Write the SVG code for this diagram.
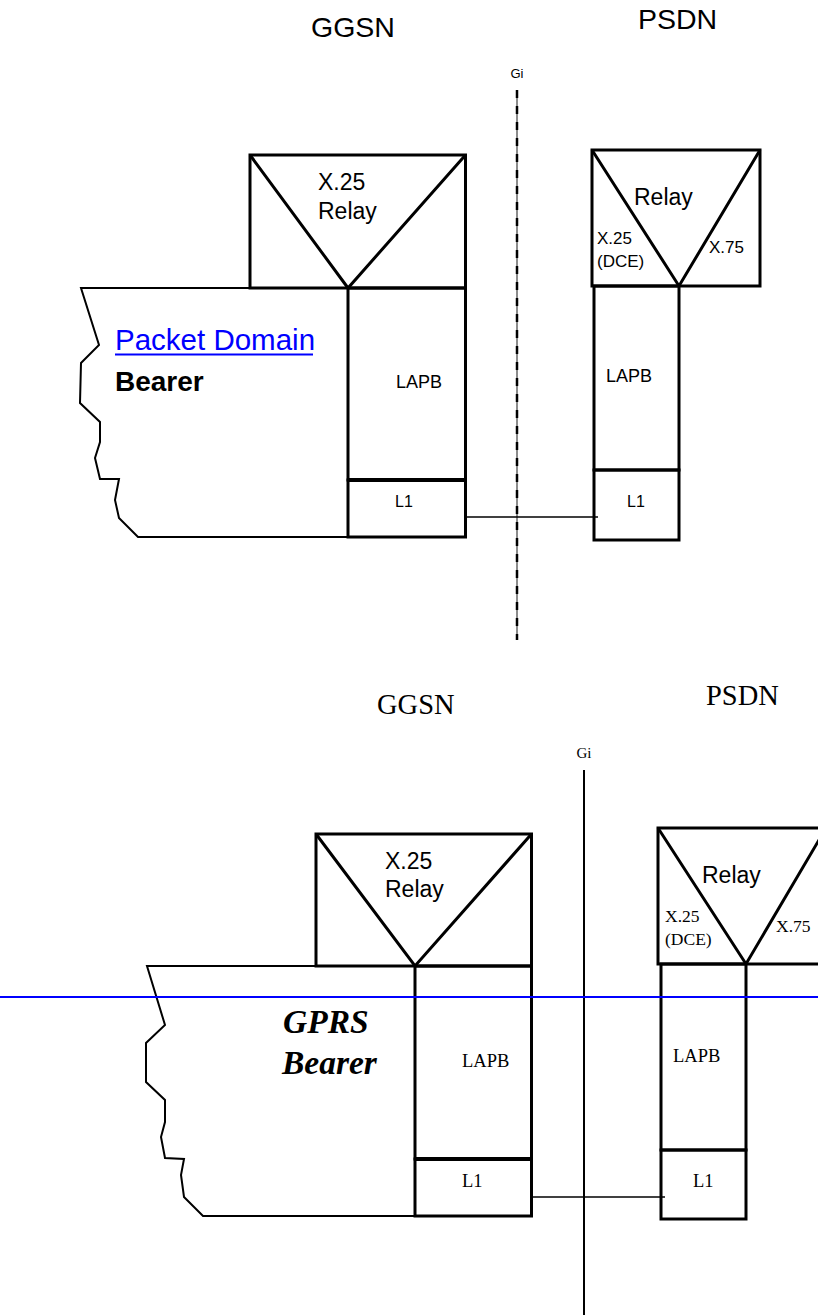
<svg xmlns="http://www.w3.org/2000/svg" width="818" height="1315" viewBox="0 0 818 1315">
<style>
.box{fill:none;stroke:#000;stroke-width:3}
.thin{fill:none;stroke:#000;stroke-width:2}
.div{stroke:#000;stroke-width:4}
.conn{stroke:#000;stroke-width:1.5}
.a{font-family:"Liberation Sans",Arial,sans-serif;fill:#000}
.t{font-family:"Liberation Serif","Times New Roman",serif;fill:#000}
</style>
<rect width="818" height="1315" fill="#fff"/>

<!-- ===== Top diagram ===== -->
<g id="top-titles">
<text class="a" x="311" y="37" font-size="28.5">GGSN</text>
<text class="a" x="638" y="29" font-size="28.5">PSDN</text>
<text class="a" x="517" y="78" font-size="13" text-anchor="middle">Gi</text>
</g>

<g id="top-ggsn-bearer">
<path class="thin" d="M250,288 L81,288 L99,345 L81,363 L80,403 L100,422 L100,442 L95,458 L100,479 L119,479 L115,500 L119,518 L138,537 L348,537"/>
<text x="115" y="350" font-size="29.5" class="a" style="fill:#0000ff">Packet Domain</text>
<line x1="115" y1="354.5" x2="313" y2="354.5" stroke="#0000ff" stroke-width="2"/>
<text class="a" x="115" y="391" font-size="28" font-weight="bold">Bearer</text>
</g>

<g id="top-ggsn-relay">
<rect class="box" x="250" y="155" width="215.5" height="133"/>
<polyline class="box" points="250,155 348,288 465.5,155"/>
<text class="a" x="318" y="190" font-size="23">X.25</text>
<text class="a" x="318" y="219" font-size="23">Relay</text>
</g>

<g id="top-ggsn-lapb">
<rect class="box" x="348" y="288" width="117.5" height="192"/>
<text class="a" x="396" y="388" font-size="18">LAPB</text>
</g>

<g id="top-ggsn-l1">
<rect class="box" x="348" y="480" width="117.5" height="57"/>
<line class="div" x1="348" y1="480" x2="465.5" y2="480"/>
<text class="a" x="395" y="507" font-size="16">L1</text>
</g>

<g id="top-psdn-relay">
<rect class="box" x="592" y="150" width="168" height="136"/>
<polyline class="box" points="592,150 679,286 760,150"/>
<text class="a" x="634" y="205" font-size="23">Relay</text>
<text class="a" x="597" y="244" font-size="17">X.25</text>
<text class="a" x="597" y="267" font-size="17">(DCE)</text>
<text class="a" x="709" y="253" font-size="17">X.75</text>
</g>

<g id="top-psdn-lapb">
<rect class="box" x="594" y="286" width="85" height="184"/>
<text class="a" x="606" y="382" font-size="18">LAPB</text>
</g>

<g id="top-psdn-l1">
<rect class="box" x="594" y="470" width="85" height="70"/>
<text class="a" x="627" y="507" font-size="16">L1</text>
</g>

<!-- ===== Bottom diagram ===== -->
<g id="bottom-titles">
<text class="t" x="377" y="714" font-size="28.5">GGSN</text>
<text class="t" x="706" y="705" font-size="28.5">PSDN</text>
<text class="t" x="584" y="758" font-size="15" text-anchor="middle">Gi</text>
</g>

<g id="bottom-ggsn-bearer">
<path class="thin" d="M316,966 L147,966 L165,1025 L146,1043 L146,1082 L165,1100 L165,1122 L161,1137 L165,1158 L184,1159 L181,1175 L184,1197 L203,1216 L415,1216"/>
<text class="t" x="283" y="1033" font-size="33.5" font-weight="bold" font-style="italic">GPRS</text>
<text class="t" x="282" y="1074" font-size="33.5" font-weight="bold" font-style="italic">Bearer</text>
</g>

<g id="bottom-ggsn-relay">
<rect class="box" x="316" y="834" width="215.5" height="132"/>
<polyline class="box" points="316,834 415,966 531.5,834"/>
<text class="a" x="385" y="869" font-size="23">X.25</text>
<text class="a" x="385" y="897" font-size="23">Relay</text>
</g>

<g id="bottom-ggsn-lapb">
<rect class="box" x="415" y="966" width="116.5" height="193"/>
<text class="t" x="462" y="1067" font-size="18.5">LAPB</text>
</g>

<g id="bottom-ggsn-l1">
<rect class="box" x="415" y="1159" width="116.5" height="57"/>
<line class="div" x1="415" y1="1159" x2="531.5" y2="1159"/>
<text class="t" x="462" y="1187" font-size="18.5">L1</text>
</g>

<g id="bottom-psdn-relay">
<rect class="box" x="658" y="828" width="168" height="136"/>
<polyline class="box" points="658,828 746,964 826,828"/>
<text class="a" x="702" y="883" font-size="23">Relay</text>
<text class="t" x="665" y="922" font-size="17.5">X.25</text>
<text class="t" x="665" y="945" font-size="17.5">(DCE)</text>
<text class="t" x="776" y="932" font-size="17.5">X.75</text>
</g>

<g id="bottom-psdn-lapb">
<rect class="box" x="661" y="964" width="85" height="186"/>
<text class="t" x="673" y="1062" font-size="18.5">LAPB</text>
</g>

<g id="bottom-psdn-l1">
<rect class="box" x="661" y="1150" width="85" height="69"/>
<text class="t" x="693" y="1187" font-size="18.5">L1</text>
</g>

<!-- ===== Connectors and reference lines ===== -->
<g id="connectors">
<line x1="517" y1="90" x2="517" y2="640" stroke="#666" stroke-width="1.5"/>
<line x1="517" y1="90" x2="517" y2="640" stroke="#000" stroke-width="2.5" stroke-dasharray="8,8"/>
<line class="conn" x1="465.5" y1="517" x2="598" y2="517"/>
<line x1="584" y1="770" x2="584" y2="1315" stroke="#000" stroke-width="2"/>
<line class="conn" x1="531.5" y1="1197" x2="665" y2="1197"/>
<line x1="0" y1="997" x2="818" y2="997" stroke="#0000ff" stroke-width="2"/>
</g>
</svg>
